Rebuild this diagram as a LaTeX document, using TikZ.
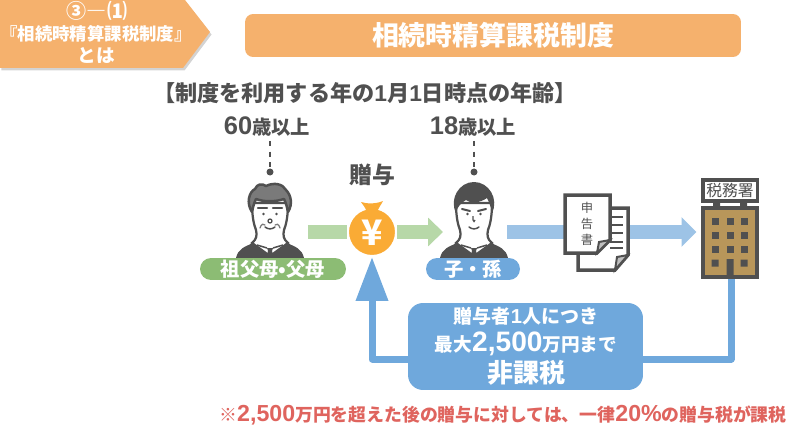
\documentclass[tikz,border=0pt]{standalone}
\usepackage{fontspec}
\setmainfont{Noto Sans CJK JP}
\newfontfamily\numfont{Liberation Sans}
\usetikzlibrary{arrows.meta,shadows}
\definecolor{headorange}{HTML}{F5B16D}
\definecolor{bagorange}{HTML}{FAAB35}
\definecolor{pillgreen}{HTML}{8CBC74}
\definecolor{arrowgreen}{HTML}{B7D8A8}
\definecolor{boxblue}{HTML}{6FA8DC}
\definecolor{arrowblue}{HTML}{9DC3E6}
\definecolor{inkgray}{HTML}{505050}
\definecolor{hairgray}{HTML}{7A7A7A}
\definecolor{officebrown}{HTML}{B8965A}
\definecolor{noterose}{HTML}{DF645E}
\newcommand{\fs}[1]{\fontsize{#1}{#1}\selectfont}
\newcommand{\digits}[2]{{\numfont\bfseries\fs{#1}#2}}
\tikzset{
  inktext/.style={text=inkgray,font=\bfseries\fs{11}},
  whitetext/.style={text=white,font=\bfseries},
  pill/.style={fill=#1,rounded corners=.22cm,minimum height=.44cm,text=white,font=\bfseries\fs{11},inner sep=0pt},
  holder/.style={inner sep=0pt,outer sep=0pt},
  ageline/.style={inkgray,line width=.03cm,dashed},
  giftarrow/.style={arrowgreen,line width=.28cm,-{Triangle[length=.3cm,width=.56cm]}},
  filearrow/.style={arrowblue,line width=.28cm,-{Triangle[length=.3cm,width=.58cm]}},
  backarrow/.style={boxblue,line width=.14cm,line join=round,-{Triangle[length=.88cm,width=.62cm]}},
  sheet/.style={fill=white,draw=inkgray,line width=.07cm,line join=miter},
  person/.pic={
    \fill[inkgray] (-34,43) .. controls (-32,34) and (-26,32) .. (-17,28) -- (17,28) .. controls (26,32) and (32,34) .. (34,43) -- cycle;
    \draw[fill=white,draw=inkgray,line width=.045cm] (-18,-12) .. controls (-18,2) and (-16,10) .. (-14,15) .. controls (-13,20) and (-13,24) .. (-18,28) -- (0,41) -- (18,28) .. controls (13,24) and (13,20) .. (14,15) .. controls (16,10) and (18,2) .. (18,-12) -- cycle;
    \draw[inkgray,line width=.03cm] (-13,30) -- (-3,33) (13,30) -- (3,33);
    \fill[inkgray] (-3,33) -- (3,33) -- (2,36) -- (4,43) -- (-4,43) -- (-2,36) -- cycle;
    \fill[inkgray] (-6.5,-1) circle [radius=1.4] (6.5,-1) circle [radius=1.4];
    \draw[inkgray,line width=.03cm,line cap=round] (-5,12) .. controls (-2,14.5) and (2,14.5) .. (5,12);
  },
  elder/.pic={
    \pic {person};
    \draw[fill=hairgray,draw=inkgray,line width=.05cm,line join=round] (-18,-3) .. controls (-24,-12) and (-21,-23) .. (-15,-26) .. controls (-13,-31) and (-8,-32) .. (-4,-29) .. controls (4,-33) and (13,-31) .. (16,-25) .. controls (21,-20) and (23,-11) .. (18,-3) .. controls (17,-8) and (16,-12) .. (14,-16) .. controls (5,-13) and (-6,-13) .. (-14,-16) .. controls (-16,-12) and (-17,-8) .. (-18,-3) -- cycle;
    \draw[inkgray,line width=.05cm,line cap=round] (-12,-7) -- (-3,-7) (3,-7) -- (12,-7);
    \draw[inkgray,line width=.025cm] (0,6) circle [radius=2];
    \draw[hairgray,line width=.025cm,line cap=round] (-10,13) .. controls (-9,9) and (-6,8) .. (-5,10) (10,13) .. controls (9,9) and (6,8) .. (5,10);
  },
  youth/.pic={
    \pic {person};
    \fill[inkgray] (-18,-2) .. controls (-25,-16) and (-15,-33) .. (0,-33) .. controls (15,-33) and (25,-16) .. (18,-2) .. controls (17,-8) and (15,-13) .. (13,-17) .. controls (6,-12) and (-4,-11) .. (-8,-15) .. controls (-13,-12) and (-17,-8) .. (-18,-2) -- cycle;
    \draw[inkgray,line width=.04cm,line cap=round] (-12,-6) -- (-4,-4) (4,-4) -- (12,-6);
    \draw[inkgray,line width=.025cm] (-1,1) -- (-1,5) .. controls (-1,7) and (1,7) .. (1,5);
  }
}
\begin{document}
\begin{tikzpicture}[x=.02cm,y=-.02cm]
\useasboundingbox (0,0) rectangle (800,432);
\fill[headorange,drop shadow={shadow xshift=.03cm,shadow yshift=-.05cm,opacity=.35}] (0,0) -- (185,0) -- (210,32) -- (183,68) -- (0,68) -- cycle;
\node[whitetext] (partno) at (97,10.5) {\fs{11.4}③―⑴};
\node[whitetext] (parttitle) at (96,34) {\fs{9.9}『相続時精算課税制度』};
\node[whitetext] (partend) at (96,56) {\fs{10.6}とは};
\node[fill=headorange,rounded corners=.16cm,minimum width=9.92cm,minimum height=.86cm,whitetext,inner sep=0pt] (title) at (493,35.5) {\raisebox{-1pt}{\fs{15.3}相続時精算課税制度}};
\node[inktext,font=\bfseries\fs{12.6}] (agehead) at (365,93) {【制度を利用する年の\digits{13}{1}月\digits{13}{1}日時点の年齢】};

\node[inktext] (oldage) at (267,127) {\digits{14.5}{60}歳以上};
\node[inktext] (youngage) at (473,127) {\digits{14.5}{18}歳以上};
\node[inktext,font=\bfseries\fs{13}] (gift) at (372,175) {贈与};

\node[holder,minimum width=1.52cm,minimum height=1.04cm] (giver) at (270,232) {};
\node[holder,minimum width=1.28cm,minimum height=1.04cm] (taker) at (475,232) {};
\node[holder,minimum width=1.38cm,minimum height=1.88cm] (office) at (731,232) {};
\node[circle,fill=bagorange,draw=white,line width=.04cm,minimum size=.96cm,inner sep=0pt,outer sep=.02cm] (bag) at (372,232) {};

\draw[ageline] (270,141) coordinate (oldtop) -- (270,172) coordinate (olddot);
\fill[inkgray] (olddot) circle [radius=3.5];
\draw[ageline] (474,141) coordinate (youngtop) -- (474,172) coordinate (youngdot);
\fill[inkgray] (youngdot) circle [radius=3.5];

\draw[arrowgreen,line width=.28cm] (giver.east) -- (bag.west);
\draw[giftarrow] (bag.east) -- (taker.west);
\draw[filearrow] (taker.east) -- (office.west);
\draw[backarrow] (office.south) -- (731,359) coordinate (corner) -- (corner -| bag.south) -- (bag.south);

\fill[bagorange] (367,212) .. controls (365,207) and (363,205) .. (361,202) .. controls (367,204) and (376,204) .. (383,201) .. controls (381,205) and (379,207) .. (377,212) -- cycle;
\node[text=white,font=\bfseries\fs{20}] (yen) at (372,233) {¥};

\pic at (270,215) {elder};
\pic at (474,215) {youth};
\node[pill=pillgreen,minimum width=2.92cm] (giverlabel) at (273,269) {祖父母•父母};
\node[pill=boxblue,minimum width=1.88cm] (takerlabel) at (473,269) {子・孫};

\draw[sheet] (578,208) -- (628,208) -- (628,255) -- (615,270) -- (578,270) -- cycle;
\foreach \y in {217,225,233,242,248}
  \draw[inkgray,line width=.04cm] (610,\y) -- (623,\y);
\draw[fill=lightgray,draw=inkgray,line width=.04cm] (628,255) -- (617,257) -- (615,270) -- cycle;
\draw[sheet] (565,195) -- (610,195) -- (610,240) -- (597,253) -- (565,253) -- cycle;
\draw[fill=lightgray,draw=inkgray,line width=.04cm] (610,240) -- (599,242) -- (597,253) -- cycle;
\node[text=inkgray,font=\fs{7},align=center,inner sep=0pt] (docname) at (587,224) {申\\[2.3pt]告\\[2.3pt]書};

\fill[inkgray] (701,178) rectangle (759,203);
\node[fill=white,text=inkgray,font=\fs{9},minimum width=1.02cm,minimum height=.36cm,inner sep=0pt] (officename) at (730,190.5) {税務署};
\fill[inkgray] (713,203) rectangle (720,207) (740,203) rectangle (747,207);
\draw[fill=officebrown,draw=inkgray,line width=.08cm] (703,208) rectangle (757,277);
\foreach \x in {715,730,744}
  \foreach \y in {221,235,249}
    \fill[inkgray] (\x-3.5,\y-3.5) rectangle (\x+3.5,\y+3.5);
\fill[inkgray] (711.5,259.5) rectangle (718.5,266.5) (740.5,259.5) rectangle (747.5,266.5) (726.5,259) rectangle (733.5,278);

\node[fill=boxblue,rounded corners=.3cm,minimum width=4.7cm,minimum height=1.74cm,inner sep=0pt] (limitbox) at (525.5,346.5) {};
\node[whitetext] (limitone) at (526,316) {\fs{10.8}贈与者\digits{11.5}{1}人につき};
\node[whitetext] (limittwo) at (526,344) {\fs{10.6}最大\digits{16}{2,500}万円まで};
\node[whitetext] (limitthree) at (526,373) {\fs{14.8}非課税};

\node[text=noterose,font=\bfseries\fs{10.15}] (note) at (503,415) {※\digits{13.2}{2,500}万円を超えた後の贈与に対しては、一律\digits{13.2}{20\%}の贈与税が課税};
\end{tikzpicture}
\end{document}
